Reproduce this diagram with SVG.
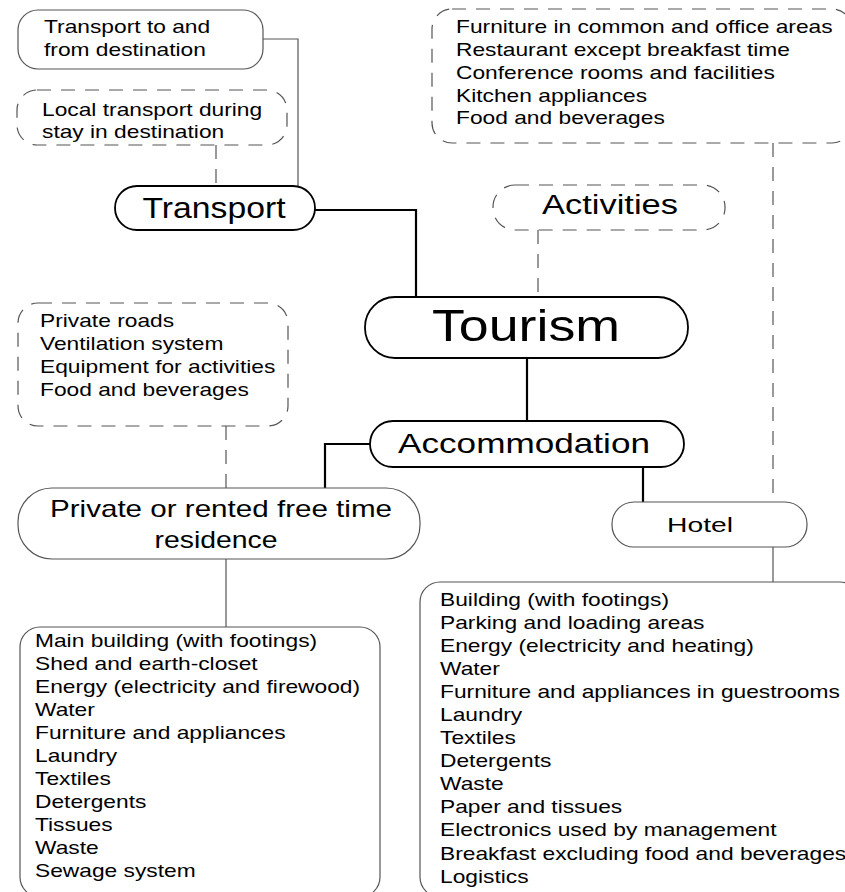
<svg xmlns="http://www.w3.org/2000/svg" width="845" height="892" viewBox="0 0 845 892">
<style>
text{font-family:"Liberation Sans",Arial,sans-serif;fill:#000}
.list{font-size:18px}
.big{text-anchor:middle}
.thin{fill:#fff;stroke:#555;stroke-width:1.2}
.dash{fill:#fff;stroke:#555;stroke-width:1.2;stroke-dasharray:14 10}
.bold{fill:#fff;stroke:#000;stroke-width:1.8}
.cthin{fill:none;stroke:#555;stroke-width:1.2}
.cdash{fill:none;stroke:#555;stroke-width:1.2;stroke-dasharray:14 10}
.cbold{fill:none;stroke:#000;stroke-width:2.2}
</style>
<rect width="845" height="892" fill="#fff"/>
<g id="connectors">
<path class="cthin" d="M263 39H298V187"/>
<path class="cdash" d="M216 145V186"/>
<path class="cbold" d="M315 210H416V297"/>
<path class="cdash" d="M538 230V297"/>
<path class="cdash" d="M773 143V502"/>
<path class="cbold" d="M527 358V420"/>
<path class="cbold" d="M370 444H325V488"/>
<path class="cbold" d="M643 467V502"/>
<path class="cthin" d="M773 547V582"/>
<path class="cdash" d="M226 426V488"/>
<path class="cthin" d="M226 559V627"/>
</g>
<g id="transport-to-from">
<rect class="thin" x="18" y="10" width="245" height="59" rx="20"/>
<text class="list" transform="matrix(1.265 0 0 1 44 0)"><tspan x="0" y="33">Transport to and</tspan><tspan x="0" y="56">from destination</tspan></text>
</g>
<g id="local-transport">
<rect class="dash" x="17" y="90" width="270" height="55" rx="20"/>
<text class="list" transform="matrix(1.265 0 0 1 42 0)"><tspan x="0" y="116">Local transport during</tspan><tspan x="0" y="138">stay in destination</tspan></text>
</g>
<g id="transport">
<rect class="bold" x="115" y="186" width="200" height="44" rx="22"/>
<text class="big" x="214" y="218" font-size="29" textLength="143" lengthAdjust="spacingAndGlyphs">Transport</text>
</g>
<g id="hotel-extras">
<rect class="dash" x="432" y="9" width="420" height="134" rx="20"/>
<text class="list" transform="matrix(1.265 0 0 1 456 0)"><tspan x="0" y="33">Furniture in common and office areas</tspan><tspan x="0" y="56">Restaurant except breakfast time</tspan><tspan x="0" y="79">Conference rooms and facilities</tspan><tspan x="0" y="102">Kitchen appliances</tspan><tspan x="0" y="124">Food and beverages</tspan></text>
</g>
<g id="activities">
<rect class="dash" x="493" y="185" width="232" height="45" rx="22"/>
<text class="big" x="610" y="214" font-size="27" textLength="136" lengthAdjust="spacingAndGlyphs">Activities</text>
</g>
<g id="tourism">
<rect class="bold" x="365" y="297" width="323" height="61" rx="30"/>
<text class="big" x="526" y="341" font-size="44" textLength="188" lengthAdjust="spacingAndGlyphs">Tourism</text>
</g>
<g id="residence-extras">
<rect class="dash" x="18" y="303" width="270" height="123" rx="20"/>
<text class="list" transform="matrix(1.265 0 0 1 40 0)"><tspan x="0" y="327">Private roads</tspan><tspan x="0" y="350">Ventilation system</tspan><tspan x="0" y="373">Equipment for activities</tspan><tspan x="0" y="396">Food and beverages</tspan></text>
</g>
<g id="accommodation">
<rect class="bold" x="370" y="421" width="314" height="46" rx="23"/>
<text class="big" x="524" y="453" font-size="28" textLength="252" lengthAdjust="spacingAndGlyphs">Accommodation</text>
</g>
<g id="residence">
<rect class="thin" x="18" y="488" width="402" height="71" rx="34"/>
<text class="big" x="221" y="517" font-size="24" textLength="342" lengthAdjust="spacingAndGlyphs">Private or rented free time</text>
<text class="big" x="216" y="548" font-size="24" textLength="123" lengthAdjust="spacingAndGlyphs">residence</text>
</g>
<g id="hotel">
<rect class="thin" x="612" y="502" width="195" height="45" rx="22"/>
<text class="big" x="700" y="532" font-size="21" textLength="66" lengthAdjust="spacingAndGlyphs">Hotel</text>
</g>
<g id="residence-items">
<rect class="thin" x="20" y="627" width="360" height="270" rx="20"/>
<text class="list" transform="matrix(1.265 0 0 1 35 0)"><tspan x="0" y="647">Main building (with footings)</tspan><tspan x="0" y="670">Shed and earth-closet</tspan><tspan x="0" y="693">Energy (electricity and firewood)</tspan><tspan x="0" y="716">Water</tspan><tspan x="0" y="739">Furniture and appliances</tspan><tspan x="0" y="762">Laundry</tspan><tspan x="0" y="785">Textiles</tspan><tspan x="0" y="808">Detergents</tspan><tspan x="0" y="831">Tissues</tspan><tspan x="0" y="854">Waste</tspan><tspan x="0" y="877">Sewage system</tspan></text>
</g>
<g id="hotel-items">
<rect class="thin" x="420" y="582" width="440" height="315" rx="20"/>
<text class="list" transform="matrix(1.265 0 0 1 440 0)"><tspan x="0" y="606">Building (with footings)</tspan><tspan x="0" y="629">Parking and loading areas</tspan><tspan x="0" y="652">Energy (electricity and heating)</tspan><tspan x="0" y="675">Water</tspan><tspan x="0" y="698">Furniture and appliances in guestrooms</tspan><tspan x="0" y="721">Laundry</tspan><tspan x="0" y="744">Textiles</tspan><tspan x="0" y="767">Detergents</tspan><tspan x="0" y="790">Waste</tspan><tspan x="0" y="813">Paper and tissues</tspan><tspan x="0" y="836">Electronics used by management</tspan><tspan x="0" y="860">Breakfast excluding food and beverages</tspan><tspan x="0" y="883">Logistics</tspan></text>
</g>
</svg>
